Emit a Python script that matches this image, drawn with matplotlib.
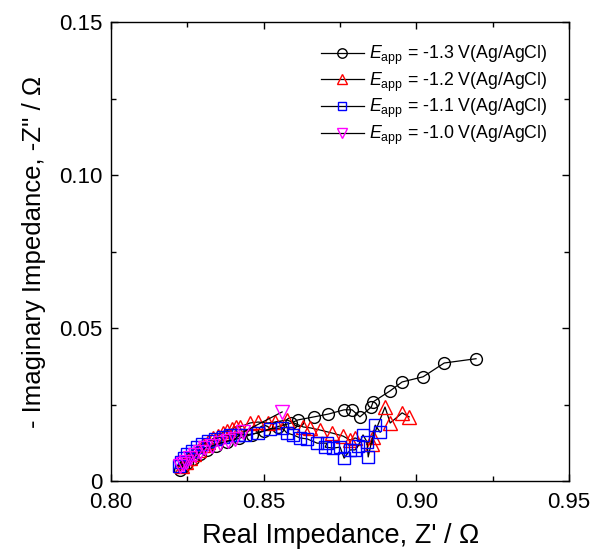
import matplotlib
matplotlib.use("Agg")
import matplotlib.pyplot as plt
from matplotlib.ticker import MultipleLocator, FixedFormatter, FixedLocator

plt.rcParams['font.family'] = ['Liberation Sans', 'DejaVu Sans']
plt.rcParams['mathtext.fontset'] = 'custom'
plt.rcParams['mathtext.rm'] = 'Liberation Sans'
plt.rcParams['mathtext.it'] = 'Liberation Sans:italic'

# -1.3 V
c_x = [0.8226, 0.8236, 0.8250, 0.8268, 0.8290, 0.8315, 0.8345, 0.8380, 0.8420, 0.8460,
       0.8500, 0.8545, 0.8590, 0.8612, 0.8665, 0.8711, 0.8763, 0.8789, 0.8815, 0.8852,
       0.8858, 0.8914, 0.8953, 0.9022, 0.9091, 0.9195]
c_y = [0.0035, 0.0045, 0.0058, 0.0072, 0.0088, 0.0102, 0.0115, 0.0128, 0.0140, 0.0152,
       0.0165, 0.0178, 0.0190, 0.0200, 0.0210, 0.0219, 0.0233, 0.0233, 0.0210, 0.0242,
       0.0259, 0.0295, 0.0324, 0.0341, 0.0386, 0.0400]

# -1.2 V
r_x = [0.8232, 0.8245, 0.8258, 0.8272, 0.8288, 0.8302, 0.8318, 0.8335, 0.8350, 0.8365,
       0.8380, 0.8395, 0.8410, 0.8422, 0.8455, 0.8481, 0.8514, 0.8537, 0.8576, 0.8629,
       0.8652, 0.8684, 0.8724, 0.8760, 0.8783, 0.8799, 0.8855, 0.8858, 0.8897, 0.8914,
       0.8953, 0.8976]
r_y = [0.0048, 0.0062, 0.0075, 0.0090, 0.0102, 0.0118, 0.0128, 0.0140, 0.0148, 0.0158,
       0.0165, 0.0170, 0.0178, 0.0177, 0.0190, 0.0193, 0.0190, 0.0193, 0.0200, 0.0177,
       0.0174, 0.0167, 0.0157, 0.0147, 0.0134, 0.0141, 0.0121, 0.0144, 0.0242, 0.0190,
       0.0223, 0.0210]

# -1.1 V
b_x = [0.8222, 0.8228, 0.8238, 0.8250, 0.8265, 0.8280, 0.8298, 0.8318, 0.8340, 0.8365,
       0.8390, 0.8415, 0.8439, 0.8481, 0.8521, 0.8560, 0.8576, 0.8596, 0.8619, 0.8642,
       0.8675, 0.8707, 0.8701, 0.8727, 0.8750, 0.8763, 0.8783, 0.8799, 0.8809, 0.8825,
       0.8838, 0.8842, 0.8865, 0.8881]
b_y = [0.0050, 0.0062, 0.0075, 0.0088, 0.0100, 0.0110, 0.0120, 0.0130, 0.0138, 0.0145,
       0.0150, 0.0152, 0.0151, 0.0157, 0.0170, 0.0174, 0.0157, 0.0151, 0.0141, 0.0138,
       0.0124, 0.0124, 0.0111, 0.0108, 0.0111, 0.0075, 0.0102, 0.0102, 0.0115, 0.0151,
       0.0128, 0.0079, 0.0183, 0.0160]

# -1.0 V
m_x = [0.8226, 0.8236, 0.8246, 0.8259, 0.8275, 0.8291, 0.8308, 0.8331, 0.8357, 0.8383,
       0.8406, 0.8432, 0.8560]
m_y = [0.0049, 0.0056, 0.0062, 0.0075, 0.0085, 0.0095, 0.0108, 0.0115, 0.0124, 0.0131,
       0.0138, 0.0160, 0.0226]

labels = [r'$E_{\mathrm{app}}$ = -1.3 V(Ag/AgCl)', r'$E_{\mathrm{app}}$ = -1.2 V(Ag/AgCl)',
          r'$E_{\mathrm{app}}$ = -1.1 V(Ag/AgCl)', r'$E_{\mathrm{app}}$ = -1.0 V(Ag/AgCl)']

fig = plt.figure(figsize=(5.91, 5.53), dpi=100)
ax = fig.add_axes([0.188, 0.130, 0.775, 0.830])

kw = dict(color='black', lw=0.9, mfc='none', mew=1.0)
ax.plot(c_x, c_y, marker='o', mec='black', ms=8.5, label=labels[0], **kw)
ax.plot(r_x, r_y, marker='^', mec='red', ms=9.5, label=labels[1], **kw)
ax.plot(b_x, b_y, marker='s', mec='blue', ms=8, label=labels[2], **kw)
ax.plot(m_x, m_y, marker='v', mec='magenta', ms=9.5, label=labels[3], **kw)

ax.set_xlim(0.80, 0.95)
ax.set_ylim(0, 0.15)
ax.xaxis.set_major_locator(FixedLocator([0.80, 0.85, 0.90, 0.95]))
ax.xaxis.set_major_formatter(FixedFormatter(['0.80', '0.85', '0.90', '0.95']))
ax.yaxis.set_major_locator(FixedLocator([0, 0.05, 0.10, 0.15]))
ax.yaxis.set_major_formatter(FixedFormatter(['0', '0.05', '0.10', '0.15']))
ax.xaxis.set_minor_locator(MultipleLocator(0.025))
ax.yaxis.set_minor_locator(MultipleLocator(0.025))
ax.tick_params(which='both', direction='in', top=True, right=True, labelsize=16, width=1.0)
ax.tick_params(which='major', length=5)
ax.tick_params(which='minor', length=3.5)
ax.tick_params(axis='x', pad=8)
ax.tick_params(axis='y', pad=6)
for s in ax.spines.values():
    s.set_linewidth(1.0)

ax.set_xlabel("Real Impedance, Z' / \u03a9", fontsize=19.5, labelpad=7)
ax.set_ylabel("- Imaginary Impedance, -Z'' / \u03a9", fontsize=18.5, labelpad=10)

ax.legend(loc='upper right', bbox_to_anchor=(0.98, 0.98), frameon=False, fontsize=12.8,
          handlelength=2.4, handletextpad=0.3, labelspacing=0.2, borderaxespad=0.3,
          markerscale=0.8)

fig.savefig('out.png', dpi=100)
